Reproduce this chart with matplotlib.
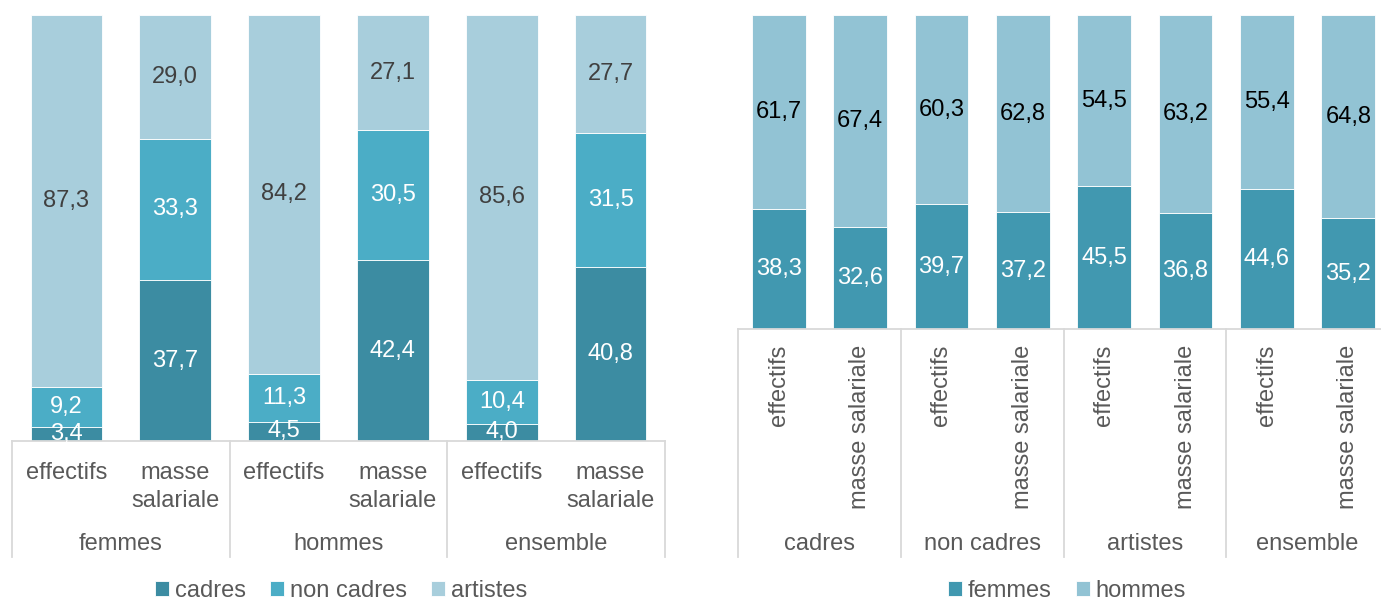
import matplotlib
matplotlib.use("Agg")
import matplotlib.pyplot as plt
from matplotlib.transforms import blended_transform_factory
import numpy as np

plt.rcParams['font.family'] = ['Liberation Sans', 'DejaVu Sans']

# left chart: split of headcount / payroll by type of job, per sex
groups_left = ['femmes', 'hommes', 'ensemble']
measures = ['effectifs', 'masse salariale']
cadres = [3.4, 37.7, 4.5, 42.4, 4.0, 40.8]
non_cadres = [9.2, 33.3, 11.3, 30.5, 10.4, 31.5]
artistes = [87.3, 29.0, 84.2, 27.1, 85.6, 27.7]

# right chart: split by sex, per type of job
groups_right = ['cadres', 'non cadres', 'artistes', 'ensemble']
femmes = [38.3, 32.6, 39.7, 37.2, 45.5, 36.8, 44.6, 35.2]
hommes = [61.7, 67.4, 60.3, 62.8, 54.5, 63.2, 55.4, 64.8]

W, H = 1381, 601
GRID = '#D9D9D9'
TXT = '#595959'
FS = 17


def fy(py):
    return 1 - py / H


def fmt(v):
    return f'{v:.1f}'.replace('.', ',')


def stacked(ax, series, colors, label_colors, names):
    x = np.arange(len(series[0]))
    bottom = np.zeros(len(x))
    handles = []
    for vals, c, lc, name in zip(series, colors, label_colors, names):
        vals = np.array(vals)
        b = ax.bar(x, vals, 0.66, bottom=bottom, color=c, edgecolor='white',
                   linewidth=0.6, label=name)
        handles.append(b)
        for xi, v, b0 in zip(x, vals, bottom):
            ax.text(xi, b0 + v / 2, fmt(v), ha='center', va='center',
                    color=lc, fontsize=FS)
        bottom += vals
    ax.set_xlim(-0.5, len(x) - 0.5)
    ax.set_ylim(0, 100)
    ax.axis('off')
    ax.axhline(0, color=GRID, lw=1.3, clip_on=False)
    return handles


fig = plt.figure(figsize=(W / 100, H / 100), dpi=100)
ax1 = fig.add_axes([12 / W, fy(441), 653 / W, 426 / H])
ax2 = fig.add_axes([738 / W, fy(329), 651 / W, 314 / H])

h1 = stacked(ax1, [cadres, non_cadres, artistes],
             ['#3C8CA2', '#4BADC6', '#A8CEDC'],
             ['white', 'white', '#404040'],
             ['cadres', 'non cadres', 'artistes'])
h2 = stacked(ax2, [femmes, hommes],
             ['#4198B0', '#92C3D4'],
             ['white', 'black'],
             ['femmes', 'hommes'])

# multi-level category axis, left chart
tr1 = blended_transform_factory(ax1.transData, fig.transFigure)
for k in range(len(groups_left) + 1):
    bx = -0.5 + 2 * k
    ax1.plot([bx, bx], [fy(441), fy(557)], transform=tr1, color=GRID,
             lw=1.3, clip_on=False)
for i in range(len(cadres)):
    lines = measures[i % 2].split(' ')
    for j, line in enumerate(lines):
        ax1.text(i, fy(479 + 28 * j), line, transform=tr1, ha='center',
                 va='baseline', color=TXT, fontsize=FS)
for k, g in enumerate(groups_left):
    ax1.text(2 * k + 0.5, fy(550), g, transform=tr1, ha='center',
             va='baseline', color=TXT, fontsize=FS)

# multi-level category axis, right chart
tr2 = blended_transform_factory(ax2.transData, fig.transFigure)
for k in range(len(groups_right) + 1):
    bx = -0.5 + 2 * k
    ax2.plot([bx, bx], [fy(329), fy(557)], transform=tr2, color=GRID,
             lw=1.3, clip_on=False)
for i in range(len(femmes)):
    ax2.text(i, fy(345), measures[i % 2], transform=tr2, rotation=90,
             ha='center', va='top', color=TXT, fontsize=FS)
for k, g in enumerate(groups_right):
    ax2.text(2 * k + 0.5, fy(550), g, transform=tr2, ha='center',
             va='baseline', color=TXT, fontsize=FS)

leg_kw = dict(loc='center', frameon=False, fontsize=FS, handlelength=0.6,
              handleheight=0.6, handletextpad=0.25, columnspacing=1.0,
              labelcolor=TXT, borderpad=0)
fig.legend(handles=h1, labels=['cadres', 'non cadres', 'artistes'], ncol=3,
           bbox_to_anchor=(341 / W, fy(591)), **leg_kw)
fig.legend(handles=h2, labels=['femmes', 'hommes'], ncol=2,
           bbox_to_anchor=(1067 / W, fy(591)), **leg_kw)

fig.savefig('out.png', dpi=100, facecolor='white')
